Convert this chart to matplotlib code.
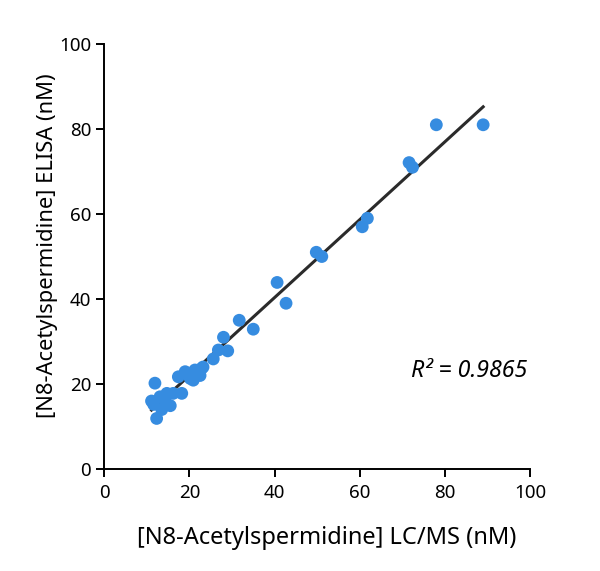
import numpy as np
import matplotlib
matplotlib.use('Agg')
import matplotlib.pyplot as plt

lcms = [11.1, 11.6, 11.9, 12.3, 13.1, 13.5, 14.3, 14.7, 15.5, 16.2,
        17.4, 18.2, 19.0, 20.2, 20.9, 21.3, 22.5, 22.9, 23.2, 25.6,
        26.8, 28.0, 29.0, 31.7, 35.0, 40.6, 42.7, 49.8, 51.1, 60.6,
        61.8, 71.6, 72.4, 78.0, 89.0]
elisa = [16.0, 15.2, 20.2, 11.9, 17.0, 14.0, 16.0, 17.8, 14.9, 17.8,
         21.7, 17.8, 22.9, 21.3, 20.9, 23.3, 22.0, 23.7, 24.0, 25.9,
         28.0, 31.0, 27.8, 35.0, 32.9, 43.9, 39.0, 51.0, 50.0, 57.0,
         59.0, 72.1, 71.0, 81.0, 81.0]
fit_slope = 0.916
fit_intercept = 3.7
r2_label = 'R² = 0.9865'
ticks = [0, 20, 40, 60, 80, 100]

plt.rcParams['font.family'] = ['Noto Sans', 'DejaVu Sans']

fig = plt.figure(figsize=(6, 5.71), dpi=100)
ax = fig.add_axes([0.1738, 0.1786, 0.7095, 0.7443])

ax.scatter(lcms, elisa, s=85, color='#368ce0', edgecolors='none', zorder=3)
xs = np.array([min(lcms), max(lcms)])
ax.plot(xs, fit_slope * xs + fit_intercept, color='#2b2b2b', lw=2.2, zorder=2)

ax.set_xlim(0, 100)
ax.set_ylim(0, 100)
ax.set_xticks(ticks)
ax.set_yticks(ticks)
ax.tick_params(labelsize=13.5, width=1.4, length=6, color='black')
ax.tick_params(axis='x', pad=5)
for s in ['top', 'right']:
  ax.spines[s].set_visible(False)
for s in ['left', 'bottom']:
  ax.spines[s].set_linewidth(1.4)

# axis titles placed by hand, they sit off-centre in the original
fig.text(0.544, 0.058, '[N8-Acetylspermidine] LC/MS (nM)', fontsize=17,
         ha='center', va='center')
fig.text(0.080, 0.570, '[N8-Acetylspermidine] ELISA (nM)', fontsize=15.8,
         ha='center', va='center', rotation=90)
ax.text(99.3, 21.7, r2_label, fontsize=16.7, style='italic', ha='right', va='baseline')

fig.savefig('out.png', dpi=100)
